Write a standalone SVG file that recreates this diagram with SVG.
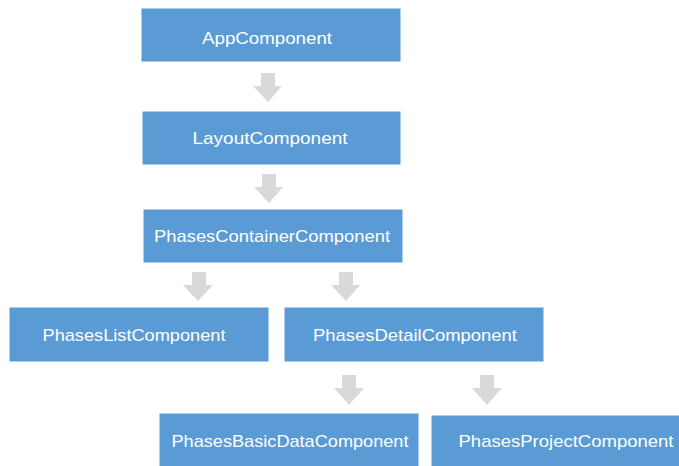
<svg xmlns="http://www.w3.org/2000/svg" width="679" height="466" viewBox="0 0 679 466">
<style>
.box{fill:#5B9BD5;stroke:#FFFFFF;stroke-width:1}
.lbl{fill:#FFFFFF;font-family:"Liberation Sans",Arial,sans-serif;font-size:17px;text-anchor:middle}
.arr{fill:#D9D9D9}
</style>
<rect width="679" height="466" fill="#FFFFFF"/>
<g id="connectors">
<polygon class="arr" points="261,73 275,73 275,86 282,86 268,102 253,86 261,86"/>
<polygon class="arr" points="262,174 276,174 276,187 283,187 269,203 254,187 262,187"/>
<polygon class="arr" points="192,272 206,272 206,285 213,285 198,301 183,285 192,285"/>
<polygon class="arr" points="339,272 353,272 353,285 360,285 346,301 331,285 339,285"/>
<polygon class="arr" points="342,375 356,375 356,388 364,388 349,405 334,388 342,388"/>
<polygon class="arr" points="480,375 494,375 494,388 502,388 487,405 472,388 480,388"/>
</g>
<g id="app">
<rect class="box" x="141" y="8" width="260" height="54"/>
<text class="lbl" x="267" y="44" textLength="130" lengthAdjust="spacingAndGlyphs">AppComponent</text>
</g>
<g id="layout">
<rect class="box" x="142" y="111" width="259" height="54"/>
<text class="lbl" x="270" y="144" textLength="155" lengthAdjust="spacingAndGlyphs">LayoutComponent</text>
</g>
<g id="container">
<rect class="box" x="143" y="209" width="260" height="54"/>
<text class="lbl" x="272" y="242" textLength="236" lengthAdjust="spacingAndGlyphs">PhasesContainerComponent</text>
</g>
<g id="list">
<rect class="box" x="9" y="307" width="260" height="55"/>
<text class="lbl" x="134" y="341" textLength="183" lengthAdjust="spacingAndGlyphs">PhasesListComponent</text>
</g>
<g id="detail">
<rect class="box" x="284" y="307" width="260" height="55"/>
<text class="lbl" x="415" y="341" textLength="204" lengthAdjust="spacingAndGlyphs">PhasesDetailComponent</text>
</g>
<g id="basicdata">
<rect class="box" x="159" y="413" width="260" height="60"/>
<text class="lbl" x="290" y="447" textLength="237" lengthAdjust="spacingAndGlyphs">PhasesBasicDataComponent</text>
</g>
<g id="project">
<rect class="box" x="431" y="415" width="268" height="60"/>
<text class="lbl" x="566" y="447" textLength="215" lengthAdjust="spacingAndGlyphs">PhasesProjectComponent</text>
</g>
</svg>
